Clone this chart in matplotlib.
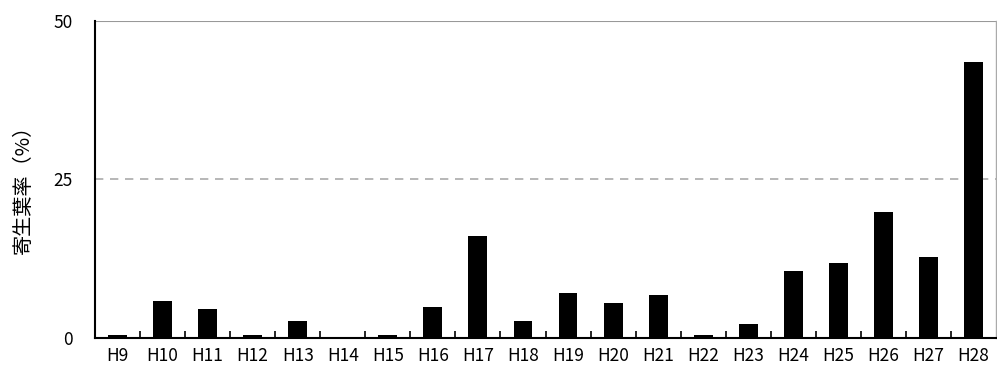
import matplotlib
matplotlib.use('Agg')
import matplotlib.pyplot as plt
import numpy as np

plt.rcParams['font.family'] = ['Noto Sans CJK JP', 'DejaVu Sans']

years = ['H9', 'H10', 'H11', 'H12', 'H13', 'H14', 'H15', 'H16', 'H17', 'H18',
         'H19', 'H20', 'H21', 'H22', 'H23', 'H24', 'H25', 'H26', 'H27', 'H28']
rate = [0.4, 5.8, 4.5, 0.5, 2.65, 0.0, 0.4, 4.9, 16.0, 2.65,
        7.0, 5.5, 6.7, 0.4, 2.1, 10.5, 11.8, 19.8, 12.7, 43.5]

fig = plt.figure(figsize=(9.97, 3.72), dpi=100)
ax = fig.add_axes([0.0953, 0.092, 0.9037, 0.852])
x = np.arange(len(years))
ax.bar(x, rate, width=0.42, color='black', zorder=3)

ax.set_xlim(-0.5, len(years) - 0.5)
ax.set_ylim(0, 50)
ax.set_yticks([0, 25, 50])
ax.axhline(25, color='#aaaaaa', ls=(0, (5, 4)), lw=1.2, zorder=1)
ax.axhline(50, color='#999999', lw=1.5, zorder=1)

ax.set_xticks(x)
ax.set_xticklabels(years, fontsize=12.5)
ax.set_xticks(np.arange(0.5, len(years) - 1, 1), minor=True)
ax.tick_params(axis='x', which='major', length=0, pad=7)
ax.tick_params(axis='x', which='minor', direction='in', length=5, width=1.2)
ax.tick_params(axis='y', length=0, labelsize=12.5, pad=16)

ax.set_ylabel('寄生葉率（%）', fontsize=14.5)
ax.yaxis.set_label_coords(-0.068, 0.485)

ax.spines['left'].set_linewidth(1.5)
ax.spines['bottom'].set_linewidth(1.5)
ax.spines['top'].set_visible(False)
ax.spines['right'].set_color('#aaaaaa')
ax.spines['right'].set_linewidth(1)

fig.savefig('out.png', dpi=100)
